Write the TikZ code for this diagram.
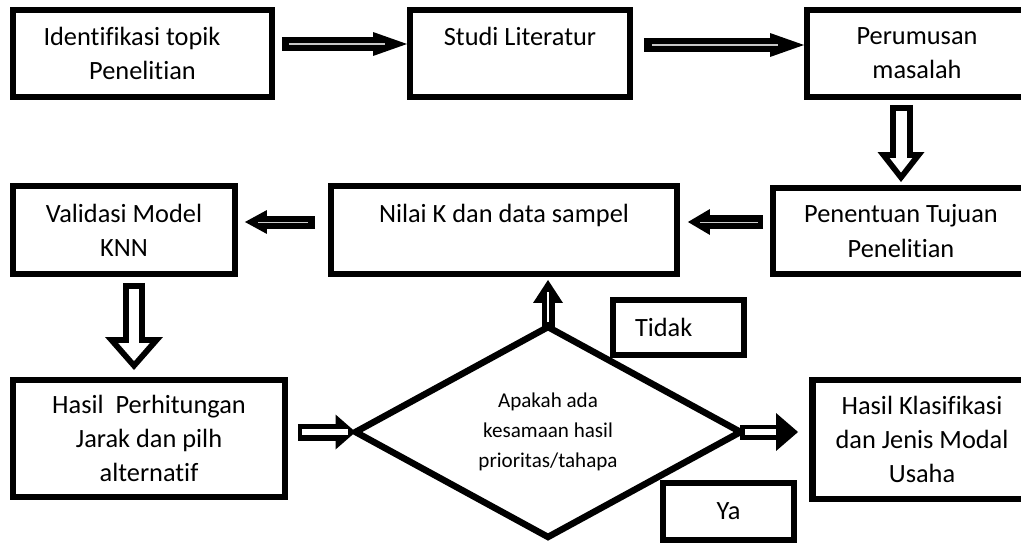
\documentclass[tikz,border=0pt]{standalone}
\usepackage{fontspec}
\setmainfont{Carlito}[Ligatures={NoCommon}]
\usetikzlibrary{shapes.geometric,arrows.meta,calc}

\tikzset{
  box/.style={draw, fill=white, line width=0.13cm, align=center, inner sep=0pt, outer sep=0pt,
    font=\fontsize{15}{19.5}\selectfont},
  blk/.style n args={3}{line width=#1, -{Triangle[width=#2,length=#3,line width=0pt]}},
  core/.style={white, line width=#1},
}

\begin{document}
\begin{tikzpicture}[x=0.02cm, y=-0.02cm]
\clip (0,0) rectangle (1021,544);
% boxes
\node[box, minimum width=5.18cm, minimum height=1.74cm] (ident) at (142.5,53.5) {Identifikasi topik\hspace*{0.42cm}\\Penelitian};
\node[box, minimum width=4.4cm, minimum height=1.74cm] (studi) at (520,53.5) {Studi Literatur\\~};
\node[box, minimum width=4.4cm, minimum height=1.74cm] (rumus) at (917,53.5) {Perumusan\\masalah};
\node[box, minimum width=5.12cm, minimum height=1.72cm] (tujuan) at (901,231) {Penentuan Tujuan\\Penelitian};
\node[box, minimum width=6.92cm, minimum height=1.76cm] (nilaik) at (504,230) {Nilai K dan data sampel\\~};
\node[box, minimum width=4.44cm, minimum height=1.76cm] (valid) at (124,230) {Validasi Model\\KNN};
\node[box, minimum width=5.44cm, minimum height=2.34cm] (jarak) at (149,438.5) {Hasil~ Perhitungan\\Jarak dan pilh\\alternatif};
\node[box, minimum width=4.38cm, minimum height=2.38cm] (klas) at (922,439.5) {Hasil Klasifikasi\\dan Jenis Modal\\Usaha};
\node[box, shape=diamond, aspect=1.83, minimum width=7.7cm, minimum height=4.2cm,
  font=\fontsize{12}{17}\selectfont] (tanya) at (548,432) {Apakah ada\\kesamaan hasil\\prioritas/tahapa};
\node[box, align=left, text width=1.74cm, inner xsep=0.44cm, minimum height=1.1cm] (tidak) at (678.5,327.5) {Tidak};
\node[box, minimum width=2.62cm, minimum height=1.14cm] (ya) at (728.5,511.5) {Ya};

% top row
\draw[blk={0.28cm}{0.48cm}{0.68cm}, shorten <=0.2cm, shorten >=0.06cm] ([yshift=0.19cm]ident.east) -- ([yshift=0.19cm]ident.east -| studi.west);
\draw[core=0.035cm, gray!45, shorten <=0.34cm, shorten >=0.5cm] ([yshift=0.19cm]ident.east) -- ([yshift=0.19cm]ident.east -| studi.west);
\draw[blk={0.28cm}{0.48cm}{0.68cm}, shorten <=0.28cm, shorten >=0.06cm] ([yshift=0.17cm]studi.east) -- ([yshift=0.17cm]studi.east -| rumus.west);
\draw[core=0.035cm, gray!45, shorten <=0.44cm, shorten >=0.58cm] ([yshift=0.17cm]studi.east) -- ([yshift=0.17cm]studi.east -| rumus.west);

% down to tujuan
\draw[blk={0.46cm}{0.94cm}{0.6cm}, shorten <=0.16cm, shorten >=0.12cm] (rumus.south -| tujuan.north) -- (tujuan.north);
\draw[blk={0.22cm}{0.45cm}{0.29cm}, white, shorten <=0.28cm, shorten >=0.31cm] (rumus.south -| tujuan.north) -- (tujuan.north);

% middle row, right to left
\draw[blk={0.28cm}{0.52cm}{0.44cm}, shorten <=0.2cm, shorten >=0.22cm] ([yshift=0.18cm]tujuan.west) -- ([yshift=0.18cm]tujuan.west -| nilaik.east);
\draw[core=0.02cm, gray!40, shorten <=0.3cm, shorten >=0.46cm] ([yshift=0.18cm]tujuan.west) -- ([yshift=0.18cm]tujuan.west -| nilaik.east);
\draw[blk={0.26cm}{0.48cm}{0.44cm}, shorten <=0.32cm, shorten >=0.2cm] ([yshift=0.16cm]nilaik.west) -- ([yshift=0.16cm]nilaik.west -| valid.east);
\draw[core=0.02cm, gray!40, shorten <=0.46cm, shorten >=0.46cm] ([yshift=0.16cm]nilaik.west) -- ([yshift=0.16cm]nilaik.west -| valid.east);

% down to jarak
\draw[blk={0.46cm}{1.16cm}{0.66cm}, shorten <=0.18cm, shorten >=0.2cm] ([xshift=0.2cm]valid.south) -- ([xshift=0.2cm]valid.south |- jarak.north);
\draw[blk={0.22cm}{0.63cm}{0.36cm}, white, shorten <=0.3cm, shorten >=0.38cm] ([xshift=0.2cm]valid.south) -- ([xshift=0.2cm]valid.south |- jarak.north);

% into and out of the decision
\draw[blk={0.34cm}{0.7cm}{0.4cm}, shorten <=0.26cm] (jarak.east |- tanya.west) -- (tanya.west);
\draw[core=0.12cm, shorten <=0.34cm, shorten >=0.16cm] (jarak.east |- tanya.west) -- (tanya.west);
\draw[blk={0.3cm}{0.76cm}{0.44cm}, shorten >=0.29cm] (tanya.east) -- (tanya.east -| klas.west);
\draw[core=0.12cm, shorten <=0.1cm, shorten >=0.73cm] (tanya.east) -- (tanya.east -| klas.west);
\draw[blk={0.26cm}{0.6cm}{0.46cm}, shorten >=0.12cm] (tanya.north) -- (tanya.north |- nilaik.south);
\draw[core=0.04cm, shorten <=0.1cm, shorten >=0.36cm] (tanya.north) -- (tanya.north |- nilaik.south);
\end{tikzpicture}
\end{document}
